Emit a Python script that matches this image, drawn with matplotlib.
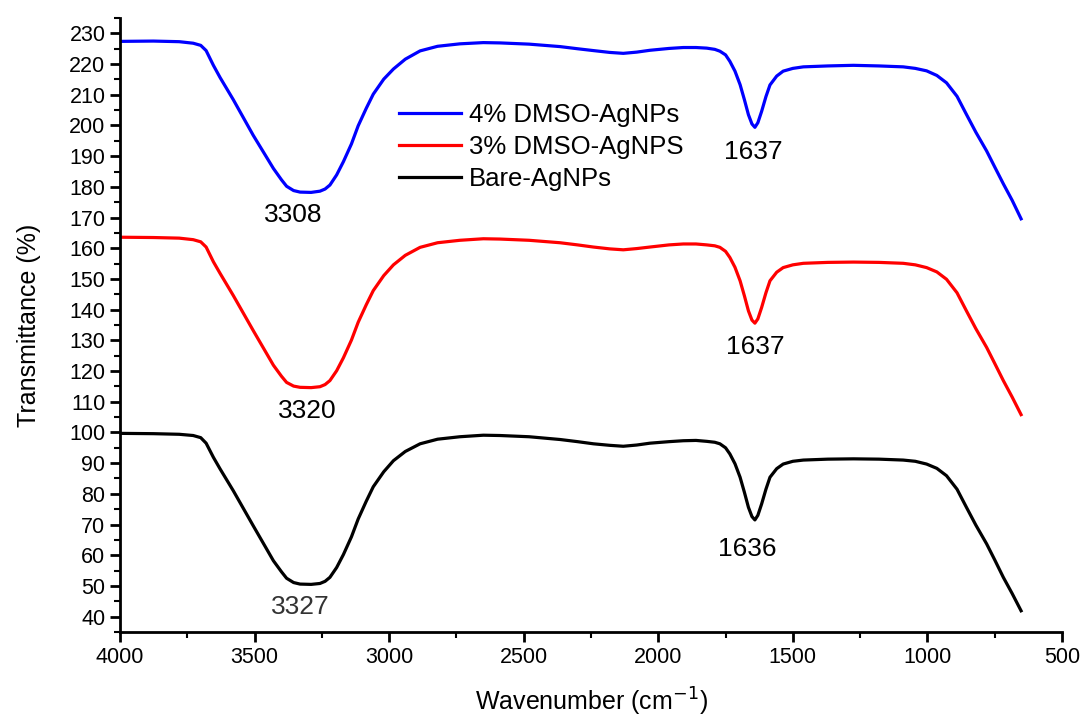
import numpy as np
import matplotlib.pyplot as plt
from matplotlib.ticker import MultipleLocator

plt.rcParams['font.family'] = ['Liberation Sans', 'DejaVu Sans']

# wavenumber positions (cm-1)
wavenumber = [4000, 3876, 3780, 3728, 3700, 3680, 3653, 3628, 3579, 3505, 3430, 3400,
              3381, 3355, 3331, 3290, 3257, 3238, 3220, 3195, 3170, 3140, 3115, 3085,
              3059, 3020, 2984, 2940, 2885, 2820, 2737, 2650, 2588, 2480, 2365, 2300,
              2241, 2180, 2130, 2080, 2031, 1960, 1907, 1860, 1820, 1790, 1771, 1750,
              1734, 1715, 1696, 1680, 1665, 1652, 1641, 1630, 1616, 1600, 1585, 1560,
              1536, 1500, 1461, 1370, 1275, 1180, 1090, 1045, 1003, 965, 929, 890,
              855, 820, 780, 750, 718, 685, 652]

bare = [99.7, 99.6, 99.4, 99.0, 98.3, 96.5, 91.9, 88.1, 81.0, 69.6, 58.2, 54.6,
        52.5, 51.1, 50.6, 50.5, 50.8, 51.5, 52.8, 56.0, 60.2, 66.0, 71.8, 77.6,
        82.3, 87.2, 90.8, 93.8, 96.3, 97.8, 98.6, 99.1, 99.0, 98.6, 97.7, 97.0,
        96.3, 95.8, 95.5, 95.9, 96.5, 97.0, 97.3, 97.4, 97.1, 96.8, 96.3, 95.0,
        93.0, 89.8, 85.4, 80.5, 75.6, 72.6, 71.5, 73.0, 76.7, 81.5, 85.4, 88.2,
        89.7, 90.6, 91.0, 91.3, 91.4, 91.3, 91.0, 90.6, 89.7, 88.3, 85.9, 81.5,
        75.6, 69.8, 63.7, 58.5, 52.8, 47.5, 41.9]

dmso3 = [163.6, 163.5, 163.3, 162.8, 162.1, 160.4, 155.6, 151.8, 144.6, 133.2, 121.9, 118.3,
         116.3, 115.1, 114.7, 114.6, 114.9, 115.6, 116.9, 120.1, 124.3, 130.1, 135.9, 141.6,
         146.2, 151.1, 154.6, 157.7, 160.3, 161.8, 162.6, 163.1, 163.0, 162.6, 161.8, 161.1,
         160.4, 159.8, 159.5, 159.9, 160.4, 161.1, 161.4, 161.4, 161.1, 160.8, 160.3, 159.0,
         157.0, 153.8, 149.4, 144.5, 139.6, 136.6, 135.6, 137.0, 140.7, 145.5, 149.4, 152.2,
         153.7, 154.6, 155.1, 155.4, 155.5, 155.4, 155.1, 154.6, 153.7, 152.3, 149.9, 145.5,
         139.6, 133.8, 127.7, 122.5, 116.9, 111.5, 105.8]

dmso4 = [227.4, 227.5, 227.3, 226.8, 226.1, 224.4, 219.6, 215.6, 208.4, 196.8, 186.0, 182.3,
         180.2, 178.8, 178.3, 178.2, 178.6, 179.3, 180.6, 183.9, 188.2, 194.0, 199.9, 205.6,
         210.2, 215.1, 218.4, 221.6, 224.3, 225.8, 226.6, 227.0, 226.9, 226.5, 225.7, 225.0,
         224.4, 223.8, 223.5, 223.9, 224.5, 225.1, 225.4, 225.4, 225.2, 224.8, 224.2, 223.0,
         220.9, 217.7, 213.3, 208.4, 203.5, 200.5, 199.4, 200.9, 204.6, 209.4, 213.2, 216.1,
         217.7, 218.6, 219.1, 219.4, 219.6, 219.4, 219.1, 218.6, 217.8, 216.3, 213.9, 209.5,
         203.6, 197.8, 191.7, 186.5, 181.0, 175.6, 169.6]

peak_labels = ['3308', '1637', '3320', '1637', '3327', '1636']
peak_x = [3357, 1648, 3305, 1641, 3331, 1670]
peak_y = [170.7, 191.5, 107.1, 127.7, 43.2, 62.1]
peak_colors = ['black', 'black', 'black', 'black', '#333333', 'black']

fig = plt.figure(figsize=(10.83, 7.22), dpi=100)
ax = fig.add_axes([0.1108, 0.1247, 0.8698, 0.8503])

ax.plot(wavenumber, dmso4, color='#0000ff', lw=2.3, label='4% DMSO-AgNPs')
ax.plot(wavenumber, dmso3, color='#ff0000', lw=2.3, label='3% DMSO-AgNPS')
ax.plot(wavenumber, bare, color='black', lw=2.3, label='Bare-AgNPs')

for t, x, y, c in zip(peak_labels, peak_x, peak_y, peak_colors):
    ax.text(x, y, t, ha='center', va='center', fontsize=19, color=c)

ax.set_xlim(4000, 500)
ax.set_ylim(35, 235)
ax.xaxis.set_major_locator(MultipleLocator(500))
ax.xaxis.set_minor_locator(MultipleLocator(250))
ax.yaxis.set_minor_locator(MultipleLocator(5))
ax.set_yticks(np.arange(40, 231, 10))

for side in ['top', 'right']:
    ax.spines[side].set_visible(False)
for side in ['left', 'bottom']:
    ax.spines[side].set_linewidth(2)

ax.tick_params(which='major', length=7, width=2, labelsize=15.5, direction='out')
ax.tick_params(which='minor', length=4, width=1.5, direction='out')

ax.set_xlabel('Wavenumber (cm$^{-1}$)', fontsize=18, labelpad=13)
ax.set_ylabel('Transmittance (%)', fontsize=18, labelpad=20)

ax.legend(loc='upper left', bbox_to_anchor=(0.272, 0.9), frameon=False, fontsize=18.5,
          handlelength=2.4, labelspacing=0.32, handletextpad=0.3)

fig.savefig('out.png', dpi=100)
